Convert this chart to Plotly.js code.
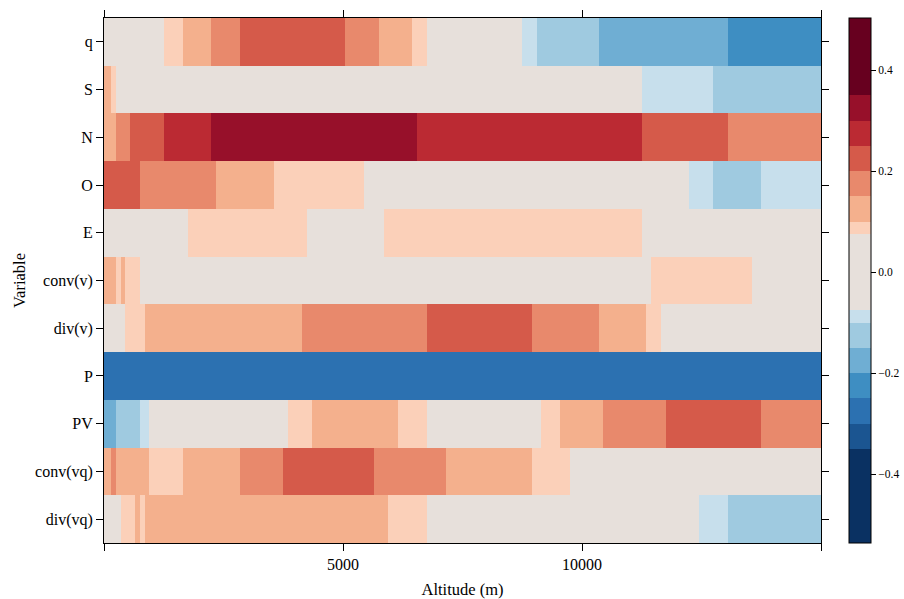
<!DOCTYPE html>
<html>
<head>
<meta charset="utf-8">
<script src="https://cdn.plot.ly/plotly-3.0.1.min.js"></script>
<style>html,body{margin:0;padding:0;background:#fff;}#chart{width:904px;height:599px;}</style>
</head>
<body>
<div id="chart"></div>
<script>
// Variables (top to bottom)
const categories = ['q','S','N','O','E','conv(v)','div(v)','P','PV','conv(vq)','div(vq)'];
const altMin = 0, altMax = 15000;

// For each variable: altitude breaks (m) between segments, and correlation value of each segment
const q_breaks = [1255,1653,2238,2845,5042,5753,6444,6757,8745,9059,10356,13054];
const q_vals   = [0.03,0.09,0.12,0.17,0.23,0.17,0.12,0.09,0.02,-0.09,-0.12,-0.17,-0.22];
const S_breaks = [150,250,11255,12741];
const S_vals   = [0.12,0.09,0.01,-0.09,-0.12];
const N_breaks = [250,545,1255,2238,6548,11255,13054];
const N_vals   = [0.12,0.17,0.23,0.28,0.32,0.28,0.22,0.17];
const O_breaks = [755,2343,3556,5439,12238,12741,13745];
const O_vals   = [0.22,0.17,0.12,0.09,0.0,-0.09,-0.12,-0.09];
const E_breaks = [1757,4247,5857,11255];
const E_vals   = [0.03,0.09,0.04,0.09,0.02];
const convv_breaks = [250,355,440,755,11444,13556];
const convv_vals   = [0.12,0.09,0.12,0.09,0.03,0.09,0.02];
const divv_breaks = [440,860,4142,6757,8954,10356,11339,11653];
const divv_vals   = [0.02,0.09,0.12,0.17,0.22,0.17,0.12,0.09,0.03];
const P_breaks = [];
const P_vals   = [-0.27];
const PV_breaks = [250,755,940,3849,4351,6151,6757,9142,9540,10439,11757,13745];
const PV_vals   = [-0.17,-0.12,-0.09,0.02,0.09,0.12,0.09,0.03,0.09,0.12,0.17,0.22,0.17];
const convvq_breaks = [150,250,940,1653,2845,3745,5648,7155,8954,9749];
const convvq_vals   = [0.12,0.17,0.12,0.09,0.12,0.17,0.22,0.17,0.12,0.09,0.03];
const divvq_breaks = [355,650,755,860,5941,6757,12448,13054];
const divvq_vals   = [0.02,0.09,0.12,0.09,0.12,0.09,0.02,-0.09,-0.12];

// Colour key: class boundaries and colours (low to high)
const keyBreaks = [-0.536,-0.35,-0.3,-0.25,-0.2,-0.15,-0.1,-0.075,0.075,0.1,0.15,0.2,0.25,0.3,0.35,0.503];
const keyColors = ['#0a3162','#1b5591','#2c71b1','#3e8ec2','#6faed3','#9fcae0','#c7dfec','#e7e0db',
                   '#fbd0b9','#f4b08d','#e8896c','#d55a4a','#bb2a33','#97102a','#67001f'];
const cbTicks = [-0.4,-0.2,0,0.2,0.4];

const rows = [
  [q_breaks,q_vals],[S_breaks,S_vals],[N_breaks,N_vals],[O_breaks,O_vals],[E_breaks,E_vals],
  [convv_breaks,convv_vals],[divv_breaks,divv_vals],[P_breaks,P_vals],[PV_breaks,PV_vals],
  [convvq_breaks,convvq_vals],[divvq_breaks,divvq_vals]
];

// common grid of cell edges
let edgeSet = new Set([altMin, altMax]);
rows.forEach(r => r[0].forEach(b => edgeSet.add(b)));
const edges = Array.from(edgeSet).sort((a,b)=>a-b);
const z = rows.map(([br, vals]) => {
  const out = [];
  for (let i = 0; i < edges.length - 1; i++) {
    const mid = (edges[i] + edges[i+1]) / 2;
    let k = 0;
    while (k < br.length && br[k] <= mid) k++;
    out.push(vals[k]);
  }
  return out;
});

const zmin = keyBreaks[0], zmax = keyBreaks[keyBreaks.length-1];
const colorscale = [];
for (let i = 0; i < keyColors.length; i++) {
  const t0 = (keyBreaks[i]-zmin)/(zmax-zmin), t1 = (keyBreaks[i+1]-zmin)/(zmax-zmin);
  colorscale.push([t0, keyColors[i]]);
  colorscale.push([Math.min(1,t1), keyColors[i]]);
}
colorscale[0][0] = 0; colorscale[colorscale.length-1][0] = 1;

const font = 'Liberation Serif';
const trace = {
  type: 'heatmap', x: edges, y: categories, z: z,
  zmin: zmin, zmax: zmax, colorscale: colorscale, zsmooth: false,
  hoverongaps: false,
  colorbar: {
    x: (849-104)/717, xanchor: 'left', xpad: 0, ypad: 0,
    y: 0.5, yanchor: 'middle', len: 1, lenmode: 'fraction',
    thickness: 22, thicknessmode: 'pixels',
    outlinewidth: 1, outlinecolor: '#000', borderwidth: 0,
    tickvals: cbTicks, tickformat: '.1f', ticks: 'outside', ticklen: 5, tickcolor: '#000',
    tickfont: {family: font, size: 11.5, color: '#000'}
  }
};

const layout = {
  width: 904, height: 599,
  margin: {l: 104, r: 83, t: 18, b: 56, autoexpand: false},
  paper_bgcolor: '#fff', plot_bgcolor: '#fff',
  font: {family: font, color: '#000'},
  xaxis: {
    range: [altMin, altMax], tickvals: [0,5000,10000,15000], ticktext: ['','5000','10000',''],
    ticks: 'outside', ticklen: 7, tickcolor: '#000', mirror: 'ticks',
    showline: true, linecolor: '#000', linewidth: 1, showgrid: false, zeroline: false,
    tickfont: {family: font, size: 16, color: '#000'},
    title: {text: 'Altitude (m)', font: {family: font, size: 16.5, color: '#000'}, standoff: 11}
  },
  yaxis: {
    type: 'category', range: [categories.length-0.5, -0.5],
    ticks: 'outside', ticklen: 7, tickcolor: '#000', mirror: 'ticks',
    showline: true, linecolor: '#000', linewidth: 1, showgrid: false, zeroline: false,
    tickfont: {family: font, size: 16, color: '#000'},
    title: {text: 'Variable', font: {family: font, size: 16.5, color: '#000'}, standoff: 5}
  }
};

Plotly.newPlot('chart', [trace], layout, {displayModeBar: false, staticPlot: true});
</script>
</body>
</html>
